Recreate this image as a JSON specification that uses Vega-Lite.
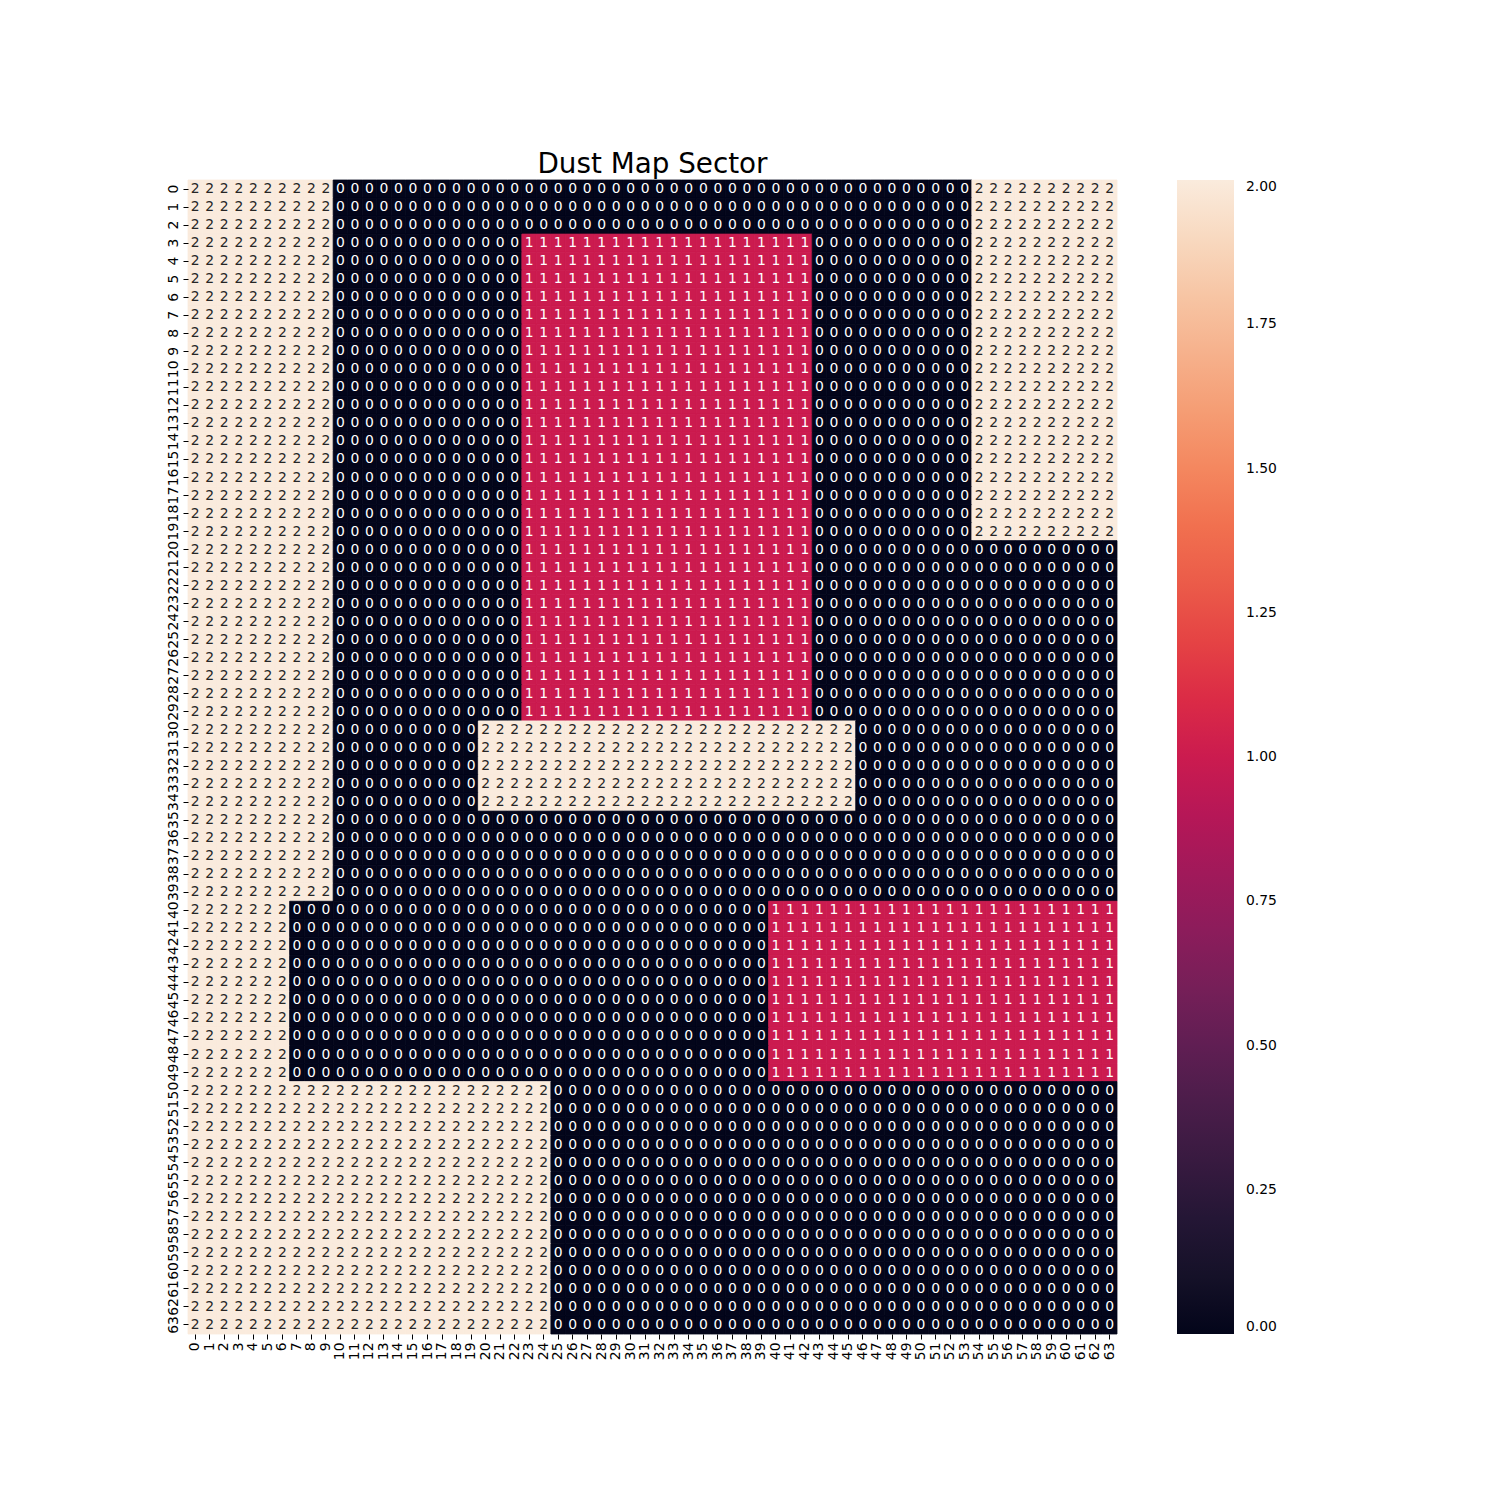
{
  "$schema": "https://vega.github.io/schema/vega-lite/v6.json",
  "autosize": "none",
  "padding": {"left": 188, "top": 180, "right": 383, "bottom": 166},
  "width": 929,
  "height": 1154,
  "background": "white",
  "title": {"text": "Dust Map Sector", "fontSize": 27.8, "font": "DejaVu Sans", "fontWeight": "normal", "color": "black", "anchor": "middle", "offset": 1},
  "config": {"view": {"stroke": null}, "font": "DejaVu Sans"},
  "datasets": {
    "patterns": [
      {"p": "A", "c": [0,1,2,3,4,5,6,7,8,9,10,11,12,13,14,15,16,17,18,19,20,21,22,23,24,25,26,27,28,29,30,31,32,33,34,35,36,37,38,39,40,41,42,43,44,45,46,47,48,49,50,51,52,53,54,55,56,57,58,59,60,61,62,63],
       "v": [2,2,2,2,2,2,2,2,2,2,0,0,0,0,0,0,0,0,0,0,0,0,0,0,0,0,0,0,0,0,0,0,0,0,0,0,0,0,0,0,0,0,0,0,0,0,0,0,0,0,0,0,0,0,2,2,2,2,2,2,2,2,2,2]},
      {"p": "B", "c": [0,1,2,3,4,5,6,7,8,9,10,11,12,13,14,15,16,17,18,19,20,21,22,23,24,25,26,27,28,29,30,31,32,33,34,35,36,37,38,39,40,41,42,43,44,45,46,47,48,49,50,51,52,53,54,55,56,57,58,59,60,61,62,63],
       "v": [2,2,2,2,2,2,2,2,2,2,0,0,0,0,0,0,0,0,0,0,0,0,0,1,1,1,1,1,1,1,1,1,1,1,1,1,1,1,1,1,1,1,1,0,0,0,0,0,0,0,0,0,0,0,2,2,2,2,2,2,2,2,2,2]},
      {"p": "C", "c": [0,1,2,3,4,5,6,7,8,9,10,11,12,13,14,15,16,17,18,19,20,21,22,23,24,25,26,27,28,29,30,31,32,33,34,35,36,37,38,39,40,41,42,43,44,45,46,47,48,49,50,51,52,53,54,55,56,57,58,59,60,61,62,63],
       "v": [2,2,2,2,2,2,2,2,2,2,0,0,0,0,0,0,0,0,0,0,0,0,0,1,1,1,1,1,1,1,1,1,1,1,1,1,1,1,1,1,1,1,1,0,0,0,0,0,0,0,0,0,0,0,0,0,0,0,0,0,0,0,0,0]},
      {"p": "D", "c": [0,1,2,3,4,5,6,7,8,9,10,11,12,13,14,15,16,17,18,19,20,21,22,23,24,25,26,27,28,29,30,31,32,33,34,35,36,37,38,39,40,41,42,43,44,45,46,47,48,49,50,51,52,53,54,55,56,57,58,59,60,61,62,63],
       "v": [2,2,2,2,2,2,2,2,2,2,0,0,0,0,0,0,0,0,0,0,2,2,2,2,2,2,2,2,2,2,2,2,2,2,2,2,2,2,2,2,2,2,2,2,2,2,0,0,0,0,0,0,0,0,0,0,0,0,0,0,0,0,0,0]},
      {"p": "E", "c": [0,1,2,3,4,5,6,7,8,9,10,11,12,13,14,15,16,17,18,19,20,21,22,23,24,25,26,27,28,29,30,31,32,33,34,35,36,37,38,39,40,41,42,43,44,45,46,47,48,49,50,51,52,53,54,55,56,57,58,59,60,61,62,63],
       "v": [2,2,2,2,2,2,2,2,2,2,0,0,0,0,0,0,0,0,0,0,0,0,0,0,0,0,0,0,0,0,0,0,0,0,0,0,0,0,0,0,0,0,0,0,0,0,0,0,0,0,0,0,0,0,0,0,0,0,0,0,0,0,0,0]},
      {"p": "F", "c": [0,1,2,3,4,5,6,7,8,9,10,11,12,13,14,15,16,17,18,19,20,21,22,23,24,25,26,27,28,29,30,31,32,33,34,35,36,37,38,39,40,41,42,43,44,45,46,47,48,49,50,51,52,53,54,55,56,57,58,59,60,61,62,63],
       "v": [2,2,2,2,2,2,2,0,0,0,0,0,0,0,0,0,0,0,0,0,0,0,0,0,0,0,0,0,0,0,0,0,0,0,0,0,0,0,0,0,1,1,1,1,1,1,1,1,1,1,1,1,1,1,1,1,1,1,1,1,1,1,1,1]},
      {"p": "G", "c": [0,1,2,3,4,5,6,7,8,9,10,11,12,13,14,15,16,17,18,19,20,21,22,23,24,25,26,27,28,29,30,31,32,33,34,35,36,37,38,39,40,41,42,43,44,45,46,47,48,49,50,51,52,53,54,55,56,57,58,59,60,61,62,63],
       "v": [2,2,2,2,2,2,2,2,2,2,2,2,2,2,2,2,2,2,2,2,2,2,2,2,2,0,0,0,0,0,0,0,0,0,0,0,0,0,0,0,0,0,0,0,0,0,0,0,0,0,0,0,0,0,0,0,0,0,0,0,0,0,0,0]}
    ],
    "rows": [
      {"r":0,"p":"A"},{"r":1,"p":"A"},{"r":2,"p":"A"},
      {"r":3,"p":"B"},{"r":4,"p":"B"},{"r":5,"p":"B"},{"r":6,"p":"B"},{"r":7,"p":"B"},{"r":8,"p":"B"},{"r":9,"p":"B"},{"r":10,"p":"B"},{"r":11,"p":"B"},{"r":12,"p":"B"},{"r":13,"p":"B"},{"r":14,"p":"B"},{"r":15,"p":"B"},{"r":16,"p":"B"},{"r":17,"p":"B"},{"r":18,"p":"B"},{"r":19,"p":"B"},
      {"r":20,"p":"C"},{"r":21,"p":"C"},{"r":22,"p":"C"},{"r":23,"p":"C"},{"r":24,"p":"C"},{"r":25,"p":"C"},{"r":26,"p":"C"},{"r":27,"p":"C"},{"r":28,"p":"C"},{"r":29,"p":"C"},
      {"r":30,"p":"D"},{"r":31,"p":"D"},{"r":32,"p":"D"},{"r":33,"p":"D"},{"r":34,"p":"D"},
      {"r":35,"p":"E"},{"r":36,"p":"E"},{"r":37,"p":"E"},{"r":38,"p":"E"},{"r":39,"p":"E"},
      {"r":40,"p":"F"},{"r":41,"p":"F"},{"r":42,"p":"F"},{"r":43,"p":"F"},{"r":44,"p":"F"},{"r":45,"p":"F"},{"r":46,"p":"F"},{"r":47,"p":"F"},{"r":48,"p":"F"},{"r":49,"p":"F"},
      {"r":50,"p":"G"},{"r":51,"p":"G"},{"r":52,"p":"G"},{"r":53,"p":"G"},{"r":54,"p":"G"},{"r":55,"p":"G"},{"r":56,"p":"G"},{"r":57,"p":"G"},{"r":58,"p":"G"},{"r":59,"p":"G"},{"r":60,"p":"G"},{"r":61,"p":"G"},{"r":62,"p":"G"},{"r":63,"p":"G"}
    ]
  },
  "data": {"name": "rows"},
  "transform": [
    {"lookup": "p", "from": {"data": {"name": "patterns"}, "key": "p", "fields": ["c", "v"]}},
    {"flatten": ["c", "v"]}
  ],
  "encoding": {
    "x": {"field": "c", "type": "ordinal", "sort": "ascending",
      "scale": {"paddingInner": 0, "paddingOuter": 0},
      "axis": {"title": null, "grid": false, "labelAngle": -90, "labelAlign": "right", "labelBaseline": "middle", "labelFontSize": 13.9, "labelFont": "DejaVu Sans", "labelColor": "black", "domain": false, "tickSize": 5, "tickColor": "black", "labelPadding": 3, "labelOverlap": false}},
    "y": {"field": "r", "type": "ordinal", "sort": "ascending",
      "scale": {"paddingInner": 0, "paddingOuter": 0},
      "axis": {"title": null, "grid": false, "labelAngle": -90, "labelAlign": "center", "labelBaseline": "bottom", "labelFontSize": 13.9, "labelFont": "DejaVu Sans", "labelColor": "black", "domain": false, "tickSize": 5, "tickColor": "black", "labelPadding": 3, "labelOverlap": false}}
  },
  "layer": [
    {
      "mark": {"type": "rect", "strokeWidth": 0.8},
      "encoding": {
        "color": {"field": "v", "type": "quantitative",
          "scale": {"domain": [0, 0.286, 0.571, 0.857, 1, 1.143, 1.429, 1.714, 2],
                    "range": ["#03051a", "#35193e", "#701f57", "#ad1759", "#cb1b4f", "#e13342", "#f37651", "#f6b48f", "#faebdd"]},
          "legend": {"type": "gradient", "title": null, "orient": "none", "legendX": 989, "legendY": 0, "direction": "vertical",
            "gradientLength": 1154, "gradientThickness": 57, "gradientStrokeWidth": 0,
            "values": [0, 0.25, 0.5, 0.75, 1, 1.25, 1.5, 1.75, 2], "format": ".2f",
            "labelFontSize": 13.9, "labelFont": "DejaVu Sans", "labelColor": "black", "labelOffset": 12, "labelOverlap": false}},
        "stroke": {"condition": [{"test": "datum.v == 2", "value": "#faebdd"}, {"test": "datum.v == 1", "value": "#cb1b4f"}], "value": "#03051a"}
      }
    },
    {
      "mark": {"type": "text", "fontSize": 13.9, "font": "DejaVu Sans", "baseline": "middle", "align": "center"},
      "encoding": {
        "text": {"field": "v", "type": "quantitative", "format": "d"},
        "color": {"condition": {"test": "datum.v == 2", "value": "#262626"}, "value": "white"}
      }
    }
  ]
}
